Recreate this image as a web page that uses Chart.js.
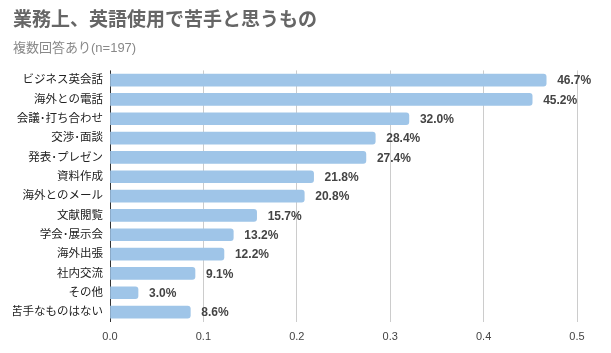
<!DOCTYPE html>
<html>
<head>
<meta charset="utf-8">
<script src="https://cdn.jsdelivr.net/npm/chart.js@4/dist/chart.umd.min.js"></script>
<style>
  html, body { margin: 0; padding: 0; background: #fff; }
  #wrap { width: 611px; height: 353px; }
</style>
</head>
<body>
<div id="wrap"><canvas id="chart"></canvas></div>
<script>
var labels = ["ビジネス英会話", "海外との電話", "会議･打ち合わせ", "交渉･面談", "発表･プレゼン", "資料作成", "海外とのメール", "文献閲覧", "学会･展示会", "海外出張", "社内交流", "その他", "苦手なものはない"];
var values = [0.467, 0.452, 0.320, 0.284, 0.274, 0.218, 0.208, 0.157, 0.132, 0.122, 0.091, 0.030, 0.086];
var xTicks = [0, 0.1, 0.2, 0.3, 0.4, 0.5];

var FONT = "'Liberation Sans', 'Noto Sans CJK JP', sans-serif";

var barLabels = {
  id: "barLabels",
  afterDatasetsDraw: function (chart) {
    var ctx = chart.ctx;
    var meta = chart.getDatasetMeta(0);
    ctx.save();
    ctx.font = "bold 12px " + FONT;
    ctx.fillStyle = "#444";
    ctx.textBaseline = "middle";
    ctx.textAlign = "left";
    meta.data.forEach(function (bar, i) {
      ctx.fillText((values[i] * 100).toFixed(1) + "%", bar.x + 11, bar.y + 1);
    });
    ctx.restore();
  }
};

var make_chart = function make_chart(id) {
  var ctx = document.getElementById(id);
  return new Chart(ctx, {
    type: "bar",
    data: {
      labels: labels,
      datasets: [{
        data: values,
        backgroundColor: "#9fc5e8",
        barThickness: 12,
        borderRadius: 3,
        borderSkipped: "start"
      }]
    },
    options: {
      indexAxis: "y",
      responsive: true,
      maintainAspectRatio: false,
      animation: false,
      layout: { padding: { left: 13, right: 34, top: 5, bottom: 0 } },
      plugins: {
        legend: { display: false },
        tooltip: { enabled: false },
        title: {
          display: true,
          text: "業務上、英語使用で苦手と思うもの",
          align: "start",
          color: "#666",
          font: { family: FONT, size: 19, weight: "bold" },
          padding: { top: 4, bottom: 9 }
        },
        subtitle: {
          display: true,
          text: "複数回答あり(n=197)",
          align: "start",
          color: "#888",
          font: { family: FONT, size: 13 },
          padding: { bottom: 14 }
        }
      },
      scales: {
        x: {
          min: 0,
          max: 0.5,
          afterBuildTicks: function (axis) {
            axis.ticks = xTicks.map(function (v) { return { value: v }; });
          },
          border: { display: false },
          grid: {
            drawTicks: false,
            color: function (c) { return c.tick && c.tick.value === 0 ? "#333" : "#ccc"; }
          },
          ticks: {
            padding: 9,
            color: "#444",
            font: { family: FONT, size: 11 },
            callback: function (v) { return Number(v).toFixed(1); }
          }
        },
        y: {
          afterFit: function (axis) { axis.width = 97; },
          border: { display: false },
          grid: { display: false, drawTicks: false },
          ticks: {
            padding: 7,
            color: "#222",
            font: { family: FONT, size: 11.5 }
          }
        }
      }
    },
    plugins: [barLabels]
  });
};

make_chart("chart");
</script>
</body>
</html>
